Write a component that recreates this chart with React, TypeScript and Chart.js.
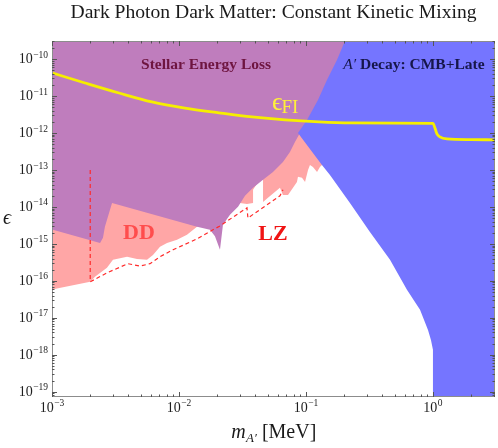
import React, { useEffect, useRef } from 'react';
import { Chart, registerables } from 'chart.js';

Chart.register(...registerables);

// ---------- axis ranges ----------
const X_MIN = 1e-3;
const X_MAX = 3.08;
const Y_MIN = 7.2e-20;
const Y_MAX = 3.06e-10;

// ---------- tick labels ----------
const xTickValues = [1e-3, 1e-2, 1e-1, 1];
const xTickExponents = ['−3', '−2', '−1', '0'];
const yTickValues = [1e-19, 1e-18, 1e-17, 1e-16, 1e-15, 1e-14, 1e-13, 1e-12, 1e-11, 1e-10];
const yTickExponents = ['−19', '−18', '−17', '−16', '−15', '−14', '−13', '−12', '−11', '−10'];

// ---------- Direct detection (DD + LZ) excluded region, pink ----------
const ddX = [0.0009, 0.0009, 2.0e-3, 2.18e-3, 2.71e-3, 3.02e-3, 3.9e-3, 4.67e-3, 5.6e-3, 6.24e-3, 7.09e-3, 8.05e-3, 9.65e-3, 0.01156, 0.01386, 0.0192, 0.0252, 0.0302, 0.0343, 0.0383, 0.0383, 0.0419, 0.0459, 0.0459, 0.0502, 0.0624, 0.0659, 0.0722, 0.0849, 0.0865, 0.0931, 0.0983, 0.1038, 0.1075, 0.1135, 0.1222, 0.1288, 0.1336, 0.1545, 0.0983, 0.0983];
const ddY = [1e-9, 5.4e-17, 9.4e-17, 1.28e-16, 2.24e-16, 3.7e-16, 4.5e-16, 3.9e-16, 3.7e-16, 5.0e-16, 8.3e-16, 1.06e-15, 1.28e-15, 1.75e-15, 2.9e-15, 6.1e-15, 8.3e-15, 1.28e-14, 1.2e-14, 1.28e-14, 2.9e-14, 4.7e-14, 6.1e-14, 1.36e-14, 1.75e-14, 3.3e-14, 2.1e-14, 2.1e-14, 4.7e-14, 6.5e-14, 6.1e-14, 4.7e-14, 1e-13, 1.36e-13, 1.2e-13, 8.8e-14, 1.2e-13, 1.36e-13, 1.36e-13, 4.2e-12, 1e-9];

// ---------- Stellar energy loss, purple ----------
const stellarX = [0.0009, 0.243, 0.2143, 0.1854, 0.1545, 0.1312, 0.1075, 0.0897, 0.0819, 0.0748, 0.0659, 0.055, 0.0459, 0.0383, 0.0331, 0.02917, 0.02521, 0.0222, 0.02103, 0.0192, 0.01754, 0.01386, 2.97e-3, 2.61e-3, 2.52e-3, 2.39e-3, 0.0009];
const stellarY = [1e-9, 1e-9, 3.06e-10, 9.4e-11, 2.7e-11, 7.8e-12, 2.24e-12, 1e-12, 5.7e-13, 3.06e-13, 1.64e-13, 8.8e-14, 5.4e-14, 3.3e-14, 2.0e-14, 1e-14, 6.1e-15, 3.3e-15, 6.9e-16, 1.6e-15, 2.4e-15, 2.9e-15, 1.28e-14, 2.9e-15, 1.45e-15, 1.06e-15, 2.7e-15];

// ---------- A' decay: CMB + late, blue ----------
const decayX = [0.23, 10, 10, 1.0, 1.0, 0.9644, 0.914, 0.791, 0.624, 0.459, 0.319, 0.222, 0.1545, 0.1336, 0.0865, 0.1019, 0.1243, 0.1463, 0.1754, 0.2027];
const decayY = [1e-9, 1e-9, 1e-21, 1e-21, 1.36e-18, 2.5e-18, 4.7e-18, 1.64e-17, 5.7e-17, 3.7e-16, 2.1e-15, 1.28e-14, 7.3e-14, 1.36e-13, 1e-12, 2.24e-12, 7.8e-12, 2.7e-11, 9.4e-11, 3.06e-10];

// ---------- freeze-in target epsilon_FI, yellow ----------
const fiX = [1e-3, 1.82e-3, 3.37e-3, 6.12e-3, 0.01114, 0.02065, 0.0376, 0.0684, 0.1265, 0.23, 0.5, 1.0, 1.037, 1.075, 1.135, 1.289, 2.0, 3.1];
const fiY = [4.2e-11, 2.24e-11, 1.2e-11, 6.9e-12, 4.7e-12, 3.5e-12, 2.7e-12, 2.24e-12, 1.98e-12, 1.86e-12, 1.84e-12, 1.82e-12, 1.36e-12, 9.4e-13, 7.8e-13, 6.9e-13, 6.6e-13, 6.5e-13];

// ---------- LZ projection, red dashed ----------
const lzX = [2.0e-3, 2.0e-3, 2.71e-3, 3.96e-3, 4.93e-3, 5.91e-3, 7.09e-3, 8.98e-3, 0.01386, 0.02103, 0.0343, 0.0349, 0.0624, 0.0659];
const lzY = [1e-13, 9.4e-17, 1.64e-16, 2.9e-16, 2.5e-16, 2.9e-16, 4.5e-16, 6.9e-16, 1.36e-15, 3.06e-15, 9.4e-15, 5.0e-15, 2.0e-14, 2.9e-14];

const SERIF = '"Liberation Serif", "DejaVu Serif", serif';

const toPts = (xs: number[], ys: number[]) => xs.map((x, i) => ({ x, y: ys[i] }));

function drawPow(ctx: CanvasRenderingContext2D, base: string, exp: string, x: number, y: number, align: string, bs: number, es: number) {
  ctx.font = `${bs}px ${SERIF}`;
  const wb = ctx.measureText(base).width;
  ctx.font = `${es}px ${SERIF}`;
  const we = ctx.measureText(exp).width;
  const total = wb + we + 0.5;
  const left = align === 'center' ? x - total / 2 : align === 'right' ? x - total : x;
  ctx.textAlign = 'left';
  ctx.textBaseline = 'alphabetic';
  ctx.font = `${bs}px ${SERIF}`;
  ctx.fillText(base, left, y);
  ctx.font = `${es}px ${SERIF}`;
  ctx.fillText(exp, left + wb + 0.5, y - bs * 0.42);
}

const decoPlugin = {
  id: 'deco',
  afterDatasetsDraw(chart: any) {
    const { ctx, chartArea: a, scales } = chart;
    const xs = scales.x;
    const ys = scales.y;
    ctx.save();
    // frame
    ctx.strokeStyle = '#8c8c8c';
    ctx.lineWidth = 1;
    ctx.strokeRect(a.left + 0.5, a.top + 0.5, a.right - a.left - 1, a.bottom - a.top - 1);
    // ticks
    ctx.strokeStyle = '#555';
    ctx.beginPath();
    for (let d = -3; d <= 0; d++) {
      for (let k = 1; k <= 9; k++) {
        const v = k * Math.pow(10, d);
        if (v < X_MIN || v > X_MAX) continue;
        const len = k === 1 ? 5 : 2.5;
        const px = Math.round(xs.getPixelForValue(v)) + 0.5;
        ctx.moveTo(px, a.bottom);
        ctx.lineTo(px, a.bottom - len);
        ctx.moveTo(px, a.top);
        ctx.lineTo(px, a.top + len);
      }
    }
    for (let d = -20; d <= -10; d++) {
      for (let k = 1; k <= 9; k++) {
        const v = k * Math.pow(10, d);
        if (v < Y_MIN || v > Y_MAX) continue;
        const len = k === 1 ? 5 : 2.5;
        const py = Math.round(ys.getPixelForValue(v)) + 0.5;
        ctx.moveTo(a.left, py);
        ctx.lineTo(a.left + len, py);
        ctx.moveTo(a.right, py);
        ctx.lineTo(a.right - len, py);
      }
    }
    ctx.stroke();

    // tick labels
    ctx.fillStyle = '#1e1e1e';
    xTickValues.forEach((v, i) => {
      drawPow(ctx, '10', xTickExponents[i], xs.getPixelForValue(v), a.bottom + 14.5, 'center', 14, 9.5);
    });
    yTickValues.forEach((v, i) => {
      drawPow(ctx, '10', yTickExponents[i], a.left - 4, ys.getPixelForValue(v) + 4.5, 'right', 14, 9.5);
    });

    // title
    ctx.fillStyle = '#1a1a1a';
    ctx.font = `19.6px ${SERIF}`;
    ctx.textAlign = 'center';
    ctx.textBaseline = 'alphabetic';
    ctx.fillText('Dark Photon Dark Matter: Constant Kinetic Mixing', (a.left + a.right) / 2, 18);

    // x axis title
    ctx.font = `italic 20px ${SERIF}`;
    const wm = ctx.measureText('m').width;
    ctx.font = `italic 13px ${SERIF}`;
    const ws = ctx.measureText('A′').width;
    ctx.font = `20px ${SERIF}`;
    const wr = ctx.measureText(' [MeV]').width;
    const lx = (a.left + a.right) / 2 - (wm + ws + wr) / 2;
    const by = 438;
    ctx.textAlign = 'left';
    ctx.font = `italic 20px ${SERIF}`;
    ctx.fillText('m', lx, by);
    ctx.font = `italic 13px ${SERIF}`;
    ctx.fillText('A′', lx + wm + 0.5, by + 4);
    ctx.font = `20px ${SERIF}`;
    ctx.fillText(' [MeV]', lx + wm + ws + 0.5, by);

    // y axis title
    ctx.font = `italic 20px ${SERIF}`;
    ctx.textAlign = 'center';
    ctx.fillText('ϵ', 7, (a.top + a.bottom) / 2 + 5);

    // region labels
    ctx.fillStyle = '#6e1540';
    ctx.font = `bold 15.5px ${SERIF}`;
    ctx.textAlign = 'center';
    ctx.fillText('Stellar Energy Loss', xs.getPixelForValue(0.01633), ys.getPixelForValue(5.4e-11));

    // A' Decay label
    ctx.fillStyle = '#16164a';
    ctx.font = `italic 15.5px ${SERIF}`;
    const wa = ctx.measureText('A′').width;
    ctx.font = `bold 15.5px ${SERIF}`;
    const wd = ctx.measureText(' Decay: CMB+Late').width;
    const dcx = xs.getPixelForValue(0.708);
    const dy = ys.getPixelForValue(5.4e-11);
    ctx.textAlign = 'left';
    ctx.font = `italic 15.5px ${SERIF}`;
    ctx.fillText('A′', dcx - (wa + wd) / 2, dy);
    ctx.font = `bold 15.5px ${SERIF}`;
    ctx.fillText(' Decay: CMB+Late', dcx - (wa + wd) / 2 + wa, dy);

    // epsilon_FI
    ctx.fillStyle = '#fff03a';
    const ex = xs.getPixelForValue(0.0539);
    const ey = ys.getPixelForValue(4.2e-12);
    ctx.font = `26px ${SERIF}`;
    ctx.fillText('ϵ', ex, ey);
    const we2 = ctx.measureText('ϵ').width;
    ctx.font = `19px ${SERIF}`;
    ctx.fillText('FI', ex + we2 - 1, ey + 3);

    // DD / LZ
    ctx.textAlign = 'center';
    ctx.font = `bold 22px ${SERIF}`;
    ctx.fillStyle = '#ff4d4d';
    ctx.fillText('DD', xs.getPixelForValue(4.84e-3), ys.getPixelForValue(1.36e-15));
    ctx.fillStyle = '#f01414';
    ctx.fillText('LZ', xs.getPixelForValue(0.055), ys.getPixelForValue(1.28e-15));

    ctx.restore();
  },
};

export default function App() {
  const ref = useRef<HTMLCanvasElement | null>(null);
  useEffect(() => {
    if (!ref.current) return;
    const poly = (xs: number[], ys: number[], color: string, order: number) => ({
      data: toPts(xs, ys),
      showLine: true,
      fill: 'shape',
      backgroundColor: color,
      borderColor: 'rgba(0,0,0,0)',
      borderWidth: 0,
      pointRadius: 0,
      tension: 0,
      order,
    });
    const chart = new Chart(ref.current, {
      type: 'scatter',
      data: {
        datasets: [
          poly(ddX, ddY, 'rgb(255,166,166)', 6),
          poly(stellarX, stellarY, 'rgb(191,125,189)', 5),
          poly(decayX, decayY, 'rgb(117,117,255)', 4),
          {
            data: toPts(lzX, lzY),
            showLine: true,
            fill: false,
            borderColor: '#ff2a2a',
            borderWidth: 1.2,
            borderDash: [4, 3],
            pointRadius: 0,
            tension: 0,
            order: 3,
          },
          {
            data: toPts(fiX, fiY),
            showLine: true,
            fill: false,
            borderColor: '#f6ee00',
            borderWidth: 2.8,
            pointRadius: 0,
            tension: 0.3,
            cubicInterpolationMode: 'monotone',
            order: 2,
          },
        ] as any,
      },
      options: {
        animation: false,
        responsive: false,
        devicePixelRatio: 1,
        layout: { padding: { top: 41, right: 3, left: 0, bottom: 0 } },
        plugins: { legend: { display: false }, tooltip: { enabled: false }, title: { display: false } },
        events: [],
        scales: {
          x: {
            type: 'logarithmic',
            min: X_MIN,
            max: X_MAX,
            grid: { display: false },
            border: { display: false },
            ticks: { display: false },
            afterFit: (s: any) => { s.height = 51; },
          },
          y: {
            type: 'logarithmic',
            min: Y_MIN,
            max: Y_MAX,
            grid: { display: false },
            border: { display: false },
            ticks: { display: false },
            afterFit: (s: any) => { s.width = 52; },
          },
        },
      } as any,
      plugins: [decoPlugin],
    });
    return () => chart.destroy();
  }, []);
  return (
    <div style={{ position: 'fixed', left: 0, top: 0, width: 498, height: 448, background: '#fff' }}>
      <canvas ref={ref} width={498} height={448} style={{ width: 498, height: 448, display: 'block' }} />
    </div>
  );
}
